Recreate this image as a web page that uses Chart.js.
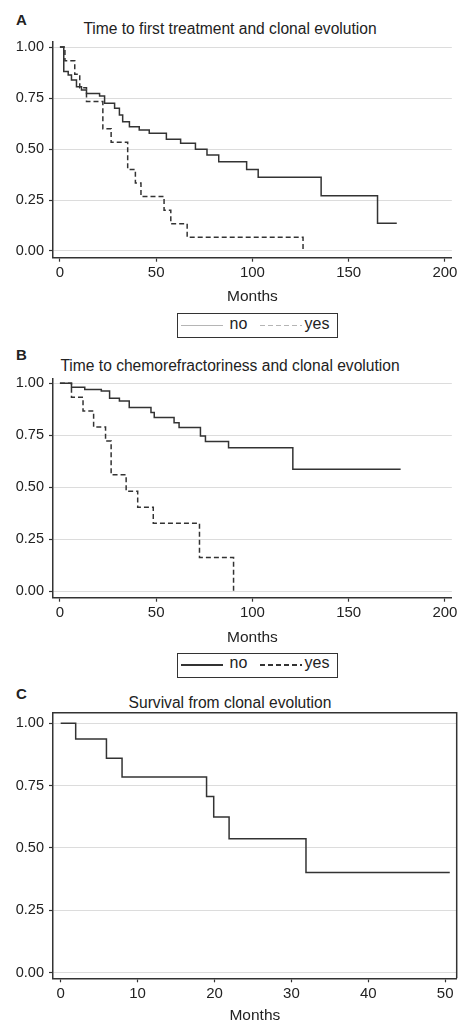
<!DOCTYPE html>
<html>
<head>
<meta charset="utf-8">
<script src="https://cdn.jsdelivr.net/npm/chart.js@4.4.1/dist/chart.umd.min.js"></script>
<style>
  html, body { margin: 0; padding: 0; background: #fff; }
  #page { position: relative; width: 460px; height: 1021px; overflow: hidden; font-family: "Liberation Sans", Arial, sans-serif; color: #222; }
  canvas { position: absolute; left: 0; }
  .letter { position: absolute; left: 16px; font-size: 15px; font-weight: bold; line-height: 1; }
  .title { position: absolute; left: 0; width: 460px; text-align: center; font-size: 15.6px; line-height: 1; }
  .legend { position: absolute; left: 177px; width: 161px; height: 25px; box-sizing: border-box; border: 1.5px solid #333; }
  .legend .sample { position: absolute; top: 10.5px; width: 42px; height: 1.5px; }
  .legend .lbl { position: absolute; top: 1.5px; font-size: 16px; line-height: 1; }
</style>
</head>
<body>
<div id="page">
  <div class="letter" style="top:12.3px">A</div>
  <div class="title" style="top:21px">Time to first treatment and clonal evolution</div>
  <canvas id="chartA" width="460" height="306" style="top:0px"></canvas>
  <div class="legend" style="top:313px">
    <div class="sample" style="left:3px; background:#b5b5b5"></div>
    <div class="lbl" style="left:51.5px">no</div>
    <div class="sample" style="left:81.5px; background:repeating-linear-gradient(to right, #b5b5b5 0 5px, transparent 5px 8px)"></div>
    <div class="lbl" style="left:126.5px">yes</div>
  </div>

  <div class="letter" style="top:346.6px">B</div>
  <div class="title" style="top:357.5px">Time to chemorefractoriness and clonal evolution</div>
  <canvas id="chartB" width="460" height="307" style="top:340px"></canvas>
  <div class="legend" style="top:652.7px">
    <div class="sample" style="left:3px; background:#333"></div>
    <div class="lbl" style="left:51.5px">no</div>
    <div class="sample" style="left:81.5px; background:repeating-linear-gradient(to right, #333 0 5px, transparent 5px 8px)"></div>
    <div class="lbl" style="left:126.5px">yes</div>
  </div>

  <div class="letter" style="top:685.6px">C</div>
  <div class="title" style="top:695px">Survival from clonal evolution</div>
  <canvas id="chartC" width="460" height="345" style="top:680px"></canvas>
</div>
<script>
//Tick values
const survTicks = [0, 0.25, 0.5, 0.75, 1];
const monthTicksLong = [0, 50, 100, 150, 200];
const monthTicksShort = [0, 10, 20, 30, 40, 50];

//A: time to first treatment, no clonal evolution
const ttftNoMonths = [0, 2, 4.3, 6, 8.6, 11.2, 13.8, 20.6, 23.2, 28.4, 30.9, 32.6, 36.1, 41.2, 46.4, 55.3, 62.7, 70.4, 76.4, 82.5, 97, 103, 135.7, 165, 175];
const ttftNoSurv = [1, 0.88, 0.863, 0.838, 0.805, 0.789, 0.773, 0.76, 0.724, 0.7, 0.667, 0.634, 0.609, 0.593, 0.577, 0.548, 0.528, 0.499, 0.471, 0.438, 0.4, 0.361, 0.271, 0.136, 0.136];
//A: time to first treatment, clonal evolution
const ttftYesMonths = [0, 2.6, 7.7, 10.3, 13.8, 22.3, 26.6, 35.2, 39.2, 42.1, 54.1, 57.6, 66.1, 126.3];
const ttftYesSurv = [1, 0.933, 0.867, 0.8, 0.733, 0.6, 0.533, 0.4, 0.333, 0.267, 0.2, 0.133, 0.067, 0];

//B: time to chemorefractoriness
const refrNoMonths = [0, 6, 12.9, 21.5, 25.8, 30.9, 36, 47.3, 49, 59.3, 61.9, 73, 75.6, 87.6, 121, 177];
const refrNoSurv = [1, 0.981, 0.971, 0.963, 0.928, 0.915, 0.884, 0.86, 0.836, 0.81, 0.788, 0.746, 0.72, 0.69, 0.586, 0.586];
const refrYesMonths = [0, 6, 12, 17.5, 23.7, 26.6, 34.4, 40.4, 48.5, 72.5, 90.2];
const refrYesSurv = [1, 0.933, 0.867, 0.79, 0.722, 0.56, 0.481, 0.403, 0.326, 0.162, 0];

//C: survival from clonal evolution
const survMonths = [0, 1.95, 5.95, 7.98, 18.97, 19.9, 21.9, 31.9, 50.6];
const survValues = [1, 0.937, 0.86, 0.785, 0.706, 0.624, 0.537, 0.402, 0.402];

const ink = "#222";
const lineColor = "#333";
const fontFamily = "'Liberation Sans', Arial, sans-serif";

const toPoints = (xs, ys) => xs.map((x, i) => ({ x: x, y: ys[i] }));

//draws the top and right edges of the plot box (panel C only)
const frame = {
  id: "frame",
  afterDraw(chart) {
    const a = chart.chartArea;
    const ctx = chart.ctx;
    ctx.save();
    ctx.strokeStyle = lineColor;
    ctx.lineWidth = 1.5;
    ctx.beginPath();
    ctx.moveTo(a.left, a.top);
    ctx.lineTo(a.right, a.top);
    ctx.lineTo(a.right, a.bottom);
    ctx.stroke();
    ctx.restore();
  },
};

function drawPanel(id, curves, geo) {
  return new Chart(document.getElementById(id), {
    type: "line",
    data: {
      datasets: curves.map((c) => ({
        data: toPoints(c.x, c.y),
        borderColor: lineColor,
        borderWidth: 1.5,
        borderDash: c.dash,
        pointRadius: 0,
        stepped: "before",
        fill: false,
      })),
    },
    plugins: geo.box ? [frame] : [],
    options: {
      responsive: false,
      animation: false,
      devicePixelRatio: 1,
      layout: { padding: { top: geo.top, right: geo.right, left: 0, bottom: 0 } },
      plugins: { legend: { display: false }, tooltip: { enabled: false } },
      scales: {
        x: {
          type: "linear",
          min: geo.xMin,
          max: geo.xMax,
          afterBuildTicks: (ax) => { ax.ticks = geo.xTicks.map((v) => ({ value: v })); },
          afterFit: (ax) => { ax.height = geo.xAxisH; },
          ticks: { color: ink, font: { family: fontFamily, size: 15 }, padding: 2.5, maxRotation: 0, autoSkip: false },
          grid: { drawOnChartArea: false, tickLength: 4, tickColor: lineColor, tickWidth: 1.2 },
          border: { color: lineColor, width: 1.5 },
          title: { display: true, text: "Months", color: ink, font: { family: fontFamily, size: 15.5 }, padding: 0 },
        },
        y: {
          min: geo.yMin,
          max: geo.yMax,
          afterBuildTicks: (ax) => { ax.ticks = survTicks.map((v) => ({ value: v })); },
          afterFit: (ax) => { ax.width = 53; },
          ticks: { color: ink, font: { family: fontFamily, size: 14.5 }, padding: 5, callback: (v) => Number(v).toFixed(2) },
          grid: { color: "#dcdcdc", lineWidth: 1, tickLength: 4, tickColor: lineColor, tickWidth: 1.2 },
          border: { color: lineColor, width: 1.5 },
        },
      },
    },
  });
}

drawPanel("chartA", [
  { x: ttftNoMonths, y: ttftNoSurv, dash: [] },
  { x: ttftYesMonths, y: ttftYesSurv, dash: [5, 3] },
], { top: 42, right: 5, xAxisH: 48.3, xMin: -3.6, xMax: 203.6, yMin: -0.033, yMax: 1.025, xTicks: monthTicksLong });

drawPanel("chartB", [
  { x: refrNoMonths, y: refrNoSurv, dash: [] },
  { x: refrYesMonths, y: refrYesSurv, dash: [5, 3] },
], { top: 39, right: 5, xAxisH: 49.3, xMin: -3.6, xMax: 203.6, yMin: -0.032, yMax: 1.021, xTicks: monthTicksLong });

drawPanel("chartC", [
  { x: survMonths, y: survValues, dash: [] },
], { top: 32.7, right: 3.3, xAxisH: 46.7, xMin: -1.0, xMax: 51.5, yMin: -0.0225, yMax: 1.0425, xTicks: monthTicksShort, box: true });
</script>
</body>
</html>
